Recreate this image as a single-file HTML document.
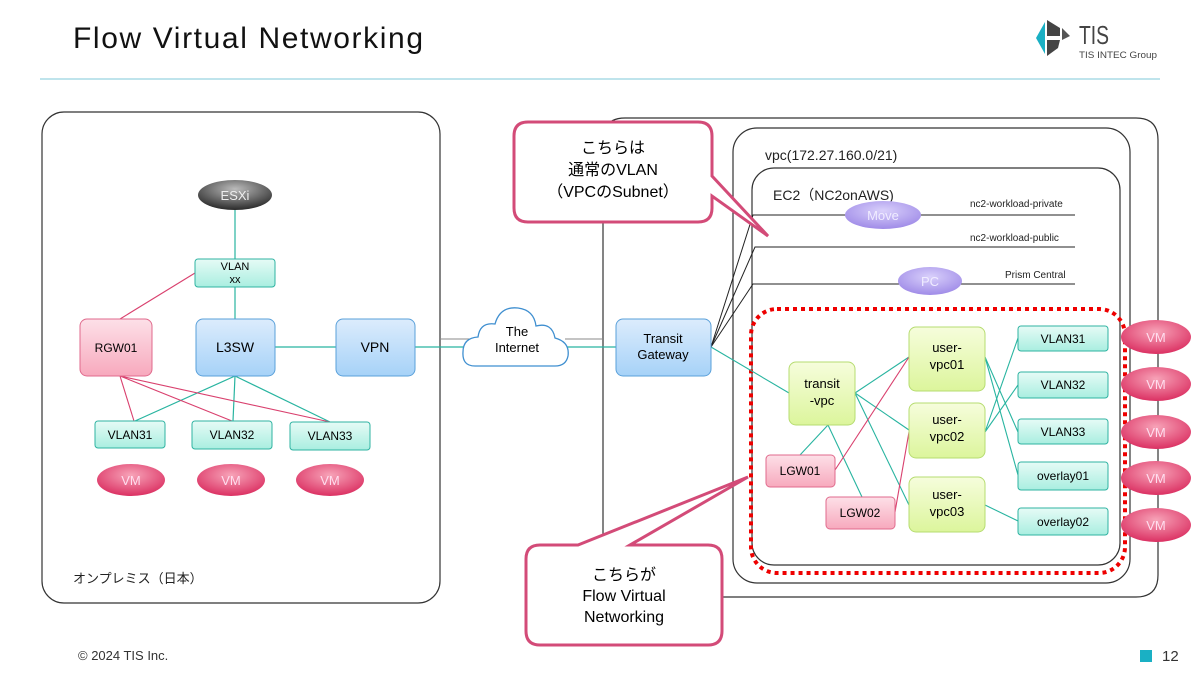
<!DOCTYPE html>
<html><head><meta charset="utf-8"><style>
body{margin:0;background:#fff}
svg{display:block}
text{font-family:"Liberation Sans","Noto Sans CJK JP",sans-serif}
</style></head><body>
<svg width="1200" height="675" viewBox="0 0 1200 675" xmlns="http://www.w3.org/2000/svg">
<defs>
<linearGradient id="gB" x1="0" y1="0" x2="0" y2="1"><stop offset="0" stop-color="#dcecfc"/><stop offset="1" stop-color="#a6d2f8"/></linearGradient>
<linearGradient id="gP" x1="0" y1="0" x2="0" y2="1"><stop offset="0" stop-color="#fde0e8"/><stop offset="1" stop-color="#f7a9bd"/></linearGradient>
<linearGradient id="gT" x1="0" y1="0" x2="0" y2="1"><stop offset="0" stop-color="#e6fbf6"/><stop offset="1" stop-color="#a9eee0"/></linearGradient>
<linearGradient id="gG" x1="0" y1="0" x2="0" y2="1"><stop offset="0" stop-color="#f6fddc"/><stop offset="1" stop-color="#dcf59c"/></linearGradient>
<radialGradient id="gVM" cx="0.5" cy="0.35" r="0.7"><stop offset="0" stop-color="#f7a3b8"/><stop offset="1" stop-color="#d9285c"/></radialGradient>
<radialGradient id="gPu" cx="0.5" cy="0.35" r="0.7"><stop offset="0" stop-color="#d9d0fb"/><stop offset="1" stop-color="#9b86e6"/></radialGradient>
<radialGradient id="gK" cx="0.5" cy="0.3" r="0.7"><stop offset="0" stop-color="#bbb"/><stop offset="1" stop-color="#2a2a2a"/></radialGradient>
</defs>
<!-- header -->
<text x="73" y="48" font-size="30" fill="#111" textLength="350" lengthAdjust="spacing">Flow Virtual Networking</text>
<line x1="40" y1="79" x2="1160" y2="79" stroke="#bfe4ec" stroke-width="2"/>
<polygon points="1036,38 1045,22 1045,54" fill="#1ab0c4"/>
<polygon points="1047,20 1060,28 1060,36 1047,36" fill="#444"/>
<polygon points="1047,40 1060,40 1058,48 1047,56" fill="#444"/>
<polygon points="1062,28 1070,36 1062,40" fill="#555"/>
<text x="1079" y="44" font-size="26" fill="#444" textLength="30" lengthAdjust="spacingAndGlyphs">TIS</text>
<text x="1079" y="58" font-size="9" fill="#444" textLength="78" lengthAdjust="spacingAndGlyphs">TIS INTEC Group</text>
<!-- footer -->
<text x="78" y="660" font-size="13" fill="#333">© 2024 TIS Inc.</text>
<rect x="1140" y="650" width="12" height="12" fill="#1ab0c4"/>
<text x="1162" y="661" font-size="15" fill="#333">12</text>

<!-- left box -->
<rect x="42" y="112" width="398" height="491" rx="22" fill="none" stroke="#333" stroke-width="1.2"/>
<text x="73" y="583" font-size="13" fill="#222">オンプレミス（日本）</text>
<!-- right outer box -->
<path d="M603,597 L603,140 Q603,118 625,118 L1136,118 Q1158,118 1158,140 L1158,575 Q1158,597 1136,597 Z" fill="none" stroke="#333" stroke-width="1.2"/>
<rect x="733" y="128" width="397" height="455" rx="24" fill="none" stroke="#333" stroke-width="1.2"/>
<rect x="752" y="168" width="368" height="397" rx="22" fill="none" stroke="#333" stroke-width="1.2"/>
<text x="765" y="160" font-size="14" fill="#222">vpc(172.27.160.0/21)</text>
<text x="773" y="200" font-size="14" fill="#222">EC2（NC2onAWS)</text>
<rect x="751" y="309" width="374" height="264" rx="26" fill="none" stroke="#e00" stroke-width="4" stroke-dasharray="4,4"/>

<!-- left connections -->
<g stroke="#28b4a0" stroke-width="1.2" fill="none">
<line x1="235" y1="209" x2="235" y2="259"/>
<line x1="235" y1="287" x2="235" y2="319"/>
<line x1="275" y1="347" x2="336" y2="347"/>
<line x1="415" y1="347" x2="470" y2="347"/>
<line x1="565" y1="347" x2="616" y2="347"/>
<line x1="235" y1="376" x2="135" y2="421"/>
<line x1="235" y1="376" x2="233" y2="421"/>
<line x1="235" y1="376" x2="330" y2="422"/>
</g>
<g stroke="#888" stroke-width="1" fill="none">
<line x1="440" y1="339" x2="470" y2="339"/>
<line x1="565" y1="339" x2="603" y2="339"/>
</g>
<g stroke="#d9406e" stroke-width="1.1" fill="none">
<line x1="195" y1="273" x2="120" y2="319"/>
<line x1="120" y1="376" x2="134" y2="421"/>
<line x1="120" y1="376" x2="232" y2="421"/>
<line x1="120" y1="376" x2="330" y2="422"/>
</g>
<!-- left nodes -->
<ellipse cx="235" cy="195" rx="37" ry="15" fill="url(#gK)"/>
<text x="235" y="200" font-size="13" fill="#eee" text-anchor="middle">ESXi</text>
<rect x="195" y="259" width="80" height="28" rx="3" fill="url(#gT)" stroke="#2fb3a2"/>
<text x="235" y="270" font-size="11" text-anchor="middle">VLAN</text>
<text x="235" y="283" font-size="11" text-anchor="middle">xx</text>
<rect x="80" y="319" width="72" height="57" rx="7" fill="url(#gP)" stroke="#e06a8c"/>
<text x="116" y="352" font-size="12" text-anchor="middle">RGW01</text>
<rect x="196" y="319" width="79" height="57" rx="7" fill="url(#gB)" stroke="#5aa0da"/>
<text x="235" y="352" font-size="14" text-anchor="middle">L3SW</text>
<rect x="336" y="319" width="79" height="57" rx="7" fill="url(#gB)" stroke="#5aa0da"/>
<text x="375" y="352" font-size="14" text-anchor="middle">VPN</text>
<rect x="95" y="421" width="70" height="27" rx="3" fill="url(#gT)" stroke="#2fb3a2"/>
<text x="130" y="439" font-size="12" text-anchor="middle">VLAN31</text>
<rect x="192" y="421" width="80" height="28" rx="3" fill="url(#gT)" stroke="#2fb3a2"/>
<text x="232" y="439" font-size="12" text-anchor="middle">VLAN32</text>
<rect x="290" y="422" width="80" height="28" rx="3" fill="url(#gT)" stroke="#2fb3a2"/>
<text x="330" y="440" font-size="12" text-anchor="middle">VLAN33</text>
<g font-size="13" fill="#fde" text-anchor="middle">
<ellipse cx="131" cy="480" rx="34" ry="16" fill="url(#gVM)"/><text x="131" y="485" fill="#fde">VM</text>
<ellipse cx="231" cy="480" rx="34" ry="16" fill="url(#gVM)"/><text x="231" y="485" fill="#fde">VM</text>
<ellipse cx="330" cy="480" rx="34" ry="16" fill="url(#gVM)"/><text x="330" y="485" fill="#fde">VM</text>
</g>
<!-- cloud -->
<path d="M475,366 Q462,366 463,352 Q463,338 478,337 Q480,322 495,324 Q500,306 518,308 Q534,310 536,326 Q552,322 555,338 Q570,342 568,356 Q566,366 555,366 Z" fill="#fff" stroke="#3f8fd0" stroke-width="1.3"/>
<text x="517" y="336" font-size="13" text-anchor="middle">The</text>
<text x="517" y="352" font-size="13" text-anchor="middle">Internet</text>

<!-- TGW black lines -->
<g stroke="#222" stroke-width="1" fill="none">
<polyline points="711,347 753,215 1075,215"/>
<polyline points="711,347 755,247 1075,247"/>
<polyline points="711,347 753,284 1075,284"/>
</g>
<text x="970" y="207" font-size="10" fill="#222">nc2-workload-private</text>
<text x="970" y="241" font-size="10" fill="#222">nc2-workload-public</text>
<text x="1005" y="278" font-size="10" fill="#222">Prism Central</text>
<ellipse cx="883" cy="215" rx="38" ry="14" fill="url(#gPu)"/>
<text x="883" y="220" font-size="13" fill="#f0ecff" text-anchor="middle">Move</text>
<ellipse cx="930" cy="281" rx="32" ry="14" fill="url(#gPu)"/>
<text x="930" y="286" font-size="13" fill="#f0ecff" text-anchor="middle">PC</text>

<!-- right connections -->
<g stroke="#28b4a0" stroke-width="1.1" fill="none">
<line x1="711" y1="347" x2="789" y2="393"/>
<line x1="855" y1="393" x2="909" y2="357"/>
<line x1="855" y1="393" x2="909" y2="430"/>
<line x1="855" y1="393" x2="909" y2="505"/>
<line x1="828" y1="425" x2="800" y2="455"/>
<line x1="828" y1="425" x2="862" y2="497"/>
<line x1="985" y1="357" x2="1018" y2="432"/>
<line x1="985" y1="357" x2="1018" y2="475"/>
<line x1="985" y1="432" x2="1018" y2="338"/>
<line x1="985" y1="432" x2="1018" y2="385"/>
<line x1="985" y1="505" x2="1018" y2="521"/>
</g>
<g stroke="#d9406e" stroke-width="1.1" fill="none">
<line x1="835" y1="470" x2="909" y2="357"/>
<line x1="895" y1="512" x2="909" y2="432"/>
</g>
<!-- TGW -->
<rect x="616" y="319" width="95" height="57" rx="7" fill="url(#gB)" stroke="#5aa0da"/>
<text x="663" y="343" font-size="13" text-anchor="middle">Transit</text>
<text x="663" y="359" font-size="13" text-anchor="middle">Gateway</text>
<!-- right nodes -->
<rect x="789" y="362" width="66" height="63" rx="7" fill="url(#gG)" stroke="#b6dc70"/>
<text x="822" y="388" font-size="13" text-anchor="middle">transit</text>
<text x="822" y="405" font-size="13" text-anchor="middle">-vpc</text>
<rect x="909" y="327" width="76" height="64" rx="7" fill="url(#gG)" stroke="#b6dc70"/>
<text x="947" y="352" font-size="13" text-anchor="middle">user-</text>
<text x="947" y="369" font-size="13" text-anchor="middle">vpc01</text>
<rect x="909" y="403" width="76" height="55" rx="7" fill="url(#gG)" stroke="#b6dc70"/>
<text x="947" y="424" font-size="13" text-anchor="middle">user-</text>
<text x="947" y="441" font-size="13" text-anchor="middle">vpc02</text>
<rect x="909" y="477" width="76" height="55" rx="7" fill="url(#gG)" stroke="#b6dc70"/>
<text x="947" y="499" font-size="13" text-anchor="middle">user-</text>
<text x="947" y="516" font-size="13" text-anchor="middle">vpc03</text>
<rect x="766" y="455" width="69" height="32" rx="4" fill="url(#gP)" stroke="#e06a8c"/>
<text x="800" y="475" font-size="12" text-anchor="middle">LGW01</text>
<rect x="826" y="497" width="69" height="32" rx="4" fill="url(#gP)" stroke="#e06a8c"/>
<text x="860" y="517" font-size="12" text-anchor="middle">LGW02</text>
<g font-size="12" text-anchor="middle">
<rect x="1018" y="326" width="90" height="25" rx="3" fill="url(#gT)" stroke="#2fb3a2"/><text x="1063" y="343">VLAN31</text>
<rect x="1018" y="372" width="90" height="26" rx="3" fill="url(#gT)" stroke="#2fb3a2"/><text x="1063" y="389">VLAN32</text>
<rect x="1018" y="419" width="90" height="25" rx="3" fill="url(#gT)" stroke="#2fb3a2"/><text x="1063" y="436">VLAN33</text>
<rect x="1018" y="462" width="90" height="28" rx="3" fill="url(#gT)" stroke="#2fb3a2"/><text x="1063" y="480">overlay01</text>
<rect x="1018" y="508" width="90" height="27" rx="3" fill="url(#gT)" stroke="#2fb3a2"/><text x="1063" y="526">overlay02</text>
</g>
<g font-size="13" text-anchor="middle">
<ellipse cx="1156" cy="337" rx="35" ry="17" fill="url(#gVM)"/><text x="1156" y="342" fill="#fde">VM</text>
<ellipse cx="1156" cy="384" rx="35" ry="17" fill="url(#gVM)"/><text x="1156" y="389" fill="#fde">VM</text>
<ellipse cx="1156" cy="432" rx="35" ry="17" fill="url(#gVM)"/><text x="1156" y="437" fill="#fde">VM</text>
<ellipse cx="1156" cy="478" rx="35" ry="17" fill="url(#gVM)"/><text x="1156" y="483" fill="#fde">VM</text>
<ellipse cx="1156" cy="525" rx="35" ry="17" fill="url(#gVM)"/><text x="1156" y="530" fill="#fde">VM</text>
</g>

<!-- callouts -->
<path d="M528,122 L698,122 Q712,122 712,136 L712,176 L768,236 L712,196 L712,208 Q712,222 698,222 L528,222 Q514,222 514,208 L514,136 Q514,122 528,122 Z" fill="#fff" stroke="#d34b78" stroke-width="3"/>
<text x="613" y="153" font-size="16" text-anchor="middle">こちらは</text>
<text x="613" y="175" font-size="16" text-anchor="middle">通常のVLAN</text>
<text x="613" y="197" font-size="16" text-anchor="middle">（VPCのSubnet）</text>
<path d="M540,545 L578,545 L748,477 L630,545 L708,545 Q722,545 722,559 L722,631 Q722,645 708,645 L540,645 Q526,645 526,631 L526,559 Q526,545 540,545 Z" fill="#fff" stroke="#d34b78" stroke-width="3"/>
<text x="624" y="580" font-size="16" text-anchor="middle">こちらが</text>
<text x="624" y="601" font-size="16" text-anchor="middle">Flow Virtual</text>
<text x="624" y="622" font-size="16" text-anchor="middle">Networking</text>
</svg>
</body></html>
